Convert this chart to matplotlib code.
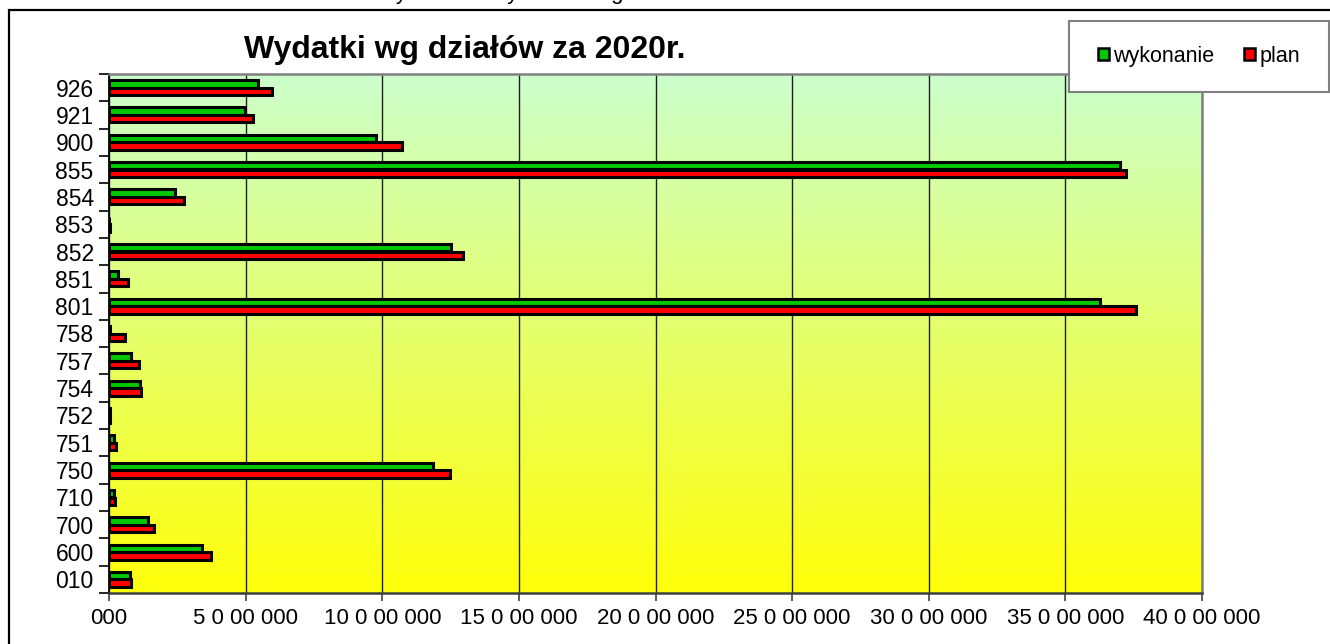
import matplotlib
matplotlib.use("Agg")
import matplotlib.pyplot as plt
import numpy as np
from matplotlib.patches import Patch, Rectangle
from matplotlib.ticker import FixedLocator

plt.rcParams["font.family"] = ["Liberation Sans", "DejaVu Sans"]

# działy, od dołu do góry
categories = ["010", "600", "700", "710", "750", "751", "752", "754", "757", "758",
              "801", "851", "852", "853", "854", "855", "900", "921", "926"]
wykonanie = [760_000, 3_400_000, 1_420_000, 180_000, 11_850_000, 200_000, 20_000,
             1_120_000, 790_000, 50_000, 36_270_000, 330_000, 12_530_000, 10_000,
             2_420_000, 37_000_000, 9_760_000, 4_960_000, 5_470_000]
plan = [800_000, 3_730_000, 1_640_000, 210_000, 12_470_000, 240_000, 30_000,
        1_180_000, 1_080_000, 580_000, 37_570_000, 690_000, 12_940_000, 20_000,
        2_750_000, 37_220_000, 10_710_000, 5_270_000, 5_950_000]

x_ticks = [0, 5_000_000, 10_000_000, 15_000_000, 20_000_000,
           25_000_000, 30_000_000, 35_000_000, 40_000_000]
x_tick_labels = ["000", "5 0 00 000", "10 0 00 000", "15 0 00 000", "20 0 00 000",
                 "25 0 00 000", "30 0 00 000", "35 0 00 000", "40 0 00 000"]

W, H = 1330, 644
GREEN = "#00c800"
RED = "#ff0000"

fig = plt.figure(figsize=(W / 100, H / 100), dpi=100)
ax = fig.add_axes([109 / W, 1 - 593 / H, (1202 - 109) / W, (593 - 74) / H])

# tło: gradient od jasnej zieleni do żółtego
top = np.array([204, 255, 204]) / 255
bottom = np.array([255, 255, 10]) / 255
t = np.linspace(0, 1, 256)[:, None]
grad = (top * (1 - t) + bottom * t)[:, None, :]
ax.imshow(grad, extent=[0, 1, 0, 1], transform=ax.transAxes, aspect="auto", zorder=0)

y = np.arange(len(categories))
bar_h = 0.27
ax.barh(y + 0.14, wykonanie, height=bar_h, color=GREEN, edgecolor="black", linewidth=2.2, zorder=3)
ax.barh(y - 0.14, plan, height=bar_h, color=RED, edgecolor="black", linewidth=2.2, zorder=3)

ax.set_xlim(0, 40_000_000)
ax.set_ylim(-0.5, len(categories) - 0.5)

ax.xaxis.set_major_locator(FixedLocator(x_ticks))
ax.set_xticklabels(x_tick_labels)
ax.set_yticks(y)
ax.set_yticklabels(categories)
ax.yaxis.set_minor_locator(FixedLocator(np.arange(-0.5, len(categories), 1.0)))
ax.tick_params(axis="y", which="major", length=0, pad=11, labelsize=16.5)
ax.tick_params(axis="y", which="minor", length=7, width=1.2, color="black", direction="out")
ax.tick_params(axis="x", length=6, width=1.2, color="#404040", direction="out", pad=5, labelsize=16)

ax.grid(axis="x", color="#202020", linewidth=1.0, zorder=1)
ax.set_axisbelow(True)

ax.spines["left"].set_color("black")
ax.spines["left"].set_linewidth(1.3)
ax.spines["bottom"].set_color("#404040")
ax.spines["bottom"].set_linewidth(1.8)
for s in ("top", "right"):
    ax.spines[s].set_color("#808080")
    ax.spines[s].set_linewidth(1.8)

# tytuł
fig.text(465 / W, 1 - 50 / H, "Wydatki wg działów za 2020r.", ha="center", va="center",
         fontsize=23, fontweight="bold")

# ucięty napis nad wykresem (w oryginale widać tylko dolne części liter)
fig.text(375 / W, 1.0 + 0.5 / H, "Wykonanie wydatków wg działów", ha="left", va="baseline",
         fontsize=16)

# ramka całego obszaru
fig.add_artist(Rectangle((9 / W, -0.05), 1.1, (1 - 10 / H) + 0.05, transform=fig.transFigure,
                         fill=False, edgecolor="black", linewidth=1.6, clip_on=False))

# legenda
lx0, lx1, ly0, ly1 = 1069, 1329, 21, 92
fig.add_artist(Rectangle((lx0 / W, 1 - ly1 / H), (lx1 - lx0) / W, (ly1 - ly0) / H,
                         transform=fig.transFigure, facecolor="white", edgecolor="#808080",
                         linewidth=1.5, zorder=5))
handles = [Patch(facecolor=GREEN, edgecolor="black", linewidth=1.8, label="wykonanie"),
           Patch(facecolor=RED, edgecolor="black", linewidth=1.8, label="plan")]
leg = fig.legend(handles=handles, loc="center", ncol=2, frameon=False,
                 bbox_to_anchor=((lx0 + lx1) / 2 / W, 1 - (ly0 + ly1) / 2 / H),
                 fontsize=15.5, handlelength=0.5, handleheight=0.5, handletextpad=0.2,
                 columnspacing=1.4)
leg.set_zorder(6)

fig.savefig("out.png", dpi=100)
